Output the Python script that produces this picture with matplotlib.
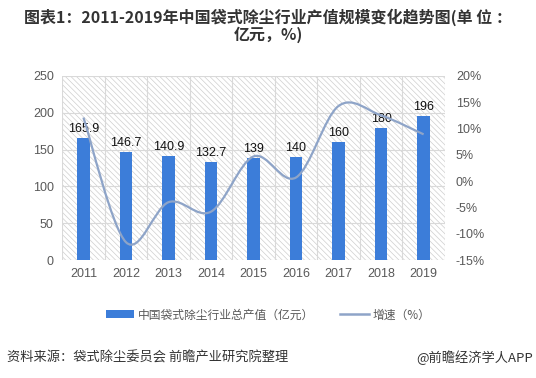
import numpy as np
import matplotlib
matplotlib.use("Agg")
import matplotlib.pyplot as plt
from matplotlib.path import Path
from matplotlib.patches import PathPatch, Rectangle, Patch
from matplotlib.lines import Line2D

plt.rcParams['font.family'] = ['Noto Sans CJK SC', 'DejaVu Sans']
plt.rcParams['hatch.linewidth'] = 0.5

# 数据
years = ['2011', '2012', '2013', '2014', '2015', '2016', '2017', '2018', '2019']
output_value = [165.9, 146.7, 140.9, 132.7, 139, 140, 160, 180, 196]
growth = [12.1, -11.6, -4.0, -5.8, 4.7, 0.7, 14.3, 12.5, 8.9]
left_ticks = [0, 50, 100, 150, 200, 250]
right_ticks = [-15, -10, -5, 0, 5, 10, 15, 20]

bar_color = '#3c7dd9'
line_color = '#8ea4c8'
grid_color = '#d9d9d9'
tick_color = '#595959'
num_font = ['Liberation Sans', 'DejaVu Sans']

fig = plt.figure(figsize=(5.36, 3.78), dpi=100)
ax = fig.add_axes([0.116, 0.312, 0.714, 0.487])

x = np.arange(len(years))
ax.set_xlim(-0.5, len(years) - 0.5)
ax.set_ylim(0, 250)

# 斜线背景
ax.add_patch(Rectangle((0, 0), 1, 1, transform=ax.transAxes, facecolor='white',
                       edgecolor='#cfcfcf', hatch='\\\\\\\\\\\\', lw=0, zorder=0))
for y in left_ticks:
    ax.axhline(y, color=grid_color, lw=0.8, zorder=0.5)
for b in np.arange(len(years) + 1) - 0.5:
    ax.axvline(b, color=grid_color, lw=0.8, zorder=0.5)

bars = ax.bar(x, output_value, width=0.3, color=bar_color, zorder=2)
for xi, v in zip(x, output_value):
    ax.text(xi, v + 4, f'{v:g}', ha='center', va='bottom', fontsize=9,
            family=num_font, color='#111111', zorder=4)

ax.set_xticks(x)
ax.set_xticklabels(years)
ax.set_yticks(left_ticks)
ax.tick_params(axis='both', length=0, labelsize=9, labelcolor=tick_color, pad=6)
for lab in ax.get_xticklabels() + ax.get_yticklabels():
    lab.set_family(num_font)
for s in ax.spines.values():
    s.set_visible(False)

# 右轴：增速（平滑曲线）
ax2 = ax.twinx()
ax2.set_ylim(-15, 20)
ax2.set_yticks(right_ticks)
ax2.set_yticklabels([f'{t}%' for t in right_ticks])
ax2.tick_params(axis='y', length=0, labelsize=9, labelcolor=tick_color, pad=8)
for lab in ax2.get_yticklabels():
    lab.set_family(num_font)
for s in ax2.spines.values():
    s.set_visible(False)

pts = np.column_stack([x, growth]).astype(float)
verts = [pts[0]]
codes = [Path.MOVETO]
for i in range(len(pts) - 1):
    p0 = pts[i - 1] if i > 0 else pts[i]
    p1 = pts[i]
    p2 = pts[i + 1]
    p3 = pts[i + 2] if i + 2 < len(pts) else pts[i + 1]
    c1 = p1 + (p2 - p0) / 6
    c2 = p2 - (p3 - p1) / 6
    verts += [c1, c2, p2]
    codes += [Path.CURVE4] * 3
ax2.add_patch(PathPatch(Path(verts, codes), facecolor='none', edgecolor=line_color,
                        lw=1.6, zorder=3))

fig.text(0.5, 0.978, '图表1：2011-2019年中国袋式除尘行业产值规模变化趋势图(单 位 ：\n亿元，%)',
         ha='center', va='top', fontsize=11.5, fontweight='bold', color='#333333',
         linespacing=1.05)

handles = [Patch(facecolor=bar_color, edgecolor='none'),
           Line2D([0], [0], color=line_color, lw=1.8)]
fig.legend(handles, ['中国袋式除尘行业总产值（亿元）', '增速（%）'], loc='center',
           bbox_to_anchor=(0.5, 0.167), ncol=2, frameon=False, fontsize=8.5,
           labelcolor=tick_color, handlelength=2.4, handleheight=0.6,
           columnspacing=2.2, handletextpad=0.3)

fig.text(0.013, 0.053, '资料来源：袋式除尘委员会 前瞻产业研究院整理', ha='left', va='center',
         fontsize=9.5, color='#333333')
fig.text(0.995, 0.053, '@前瞻经济学人APP', ha='right', va='center',
         fontsize=9.5, color='#333333')

fig.savefig('out.png', dpi=100)
